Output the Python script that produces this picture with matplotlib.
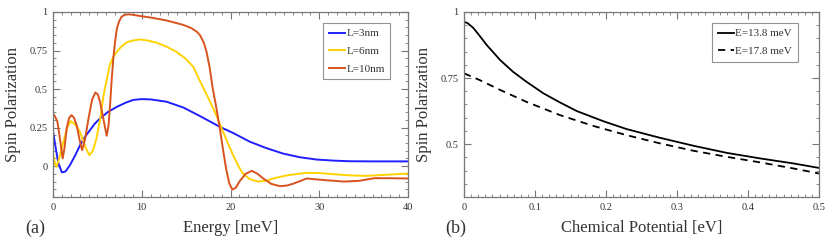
import numpy as np
import matplotlib.pyplot as plt
from matplotlib.ticker import MultipleLocator, FuncFormatter

# panel (a): spin polarization vs energy
e_3nm = [0, 0.3, 0.6, 1.0, 1.4, 1.9, 2.5, 3.05, 3.6, 4.17, 4.7, 5.3, 6.2, 7.2, 8.2, 9.06, 10.0,
         11.0, 12.8, 14.7, 16.56, 18.8, 20.3, 22.2, 24.0, 25.9, 27.8, 29.7, 31.6, 33.4, 36.0, 40.0]
p_3nm = [0.227, 0.12, 0.02, -0.040, -0.035, 0.006, 0.07, 0.136, 0.19, 0.234, 0.275, 0.31, 0.352, 0.385,
         0.412, 0.430, 0.435, 0.433, 0.418, 0.38, 0.325, 0.255, 0.215, 0.158, 0.118, 0.082, 0.058,
         0.043, 0.036, 0.032, 0.031, 0.031]

e_6nm = [0, 0.2, 0.4, 0.7, 1.17, 1.6, 2.0, 2.5, 3.05, 3.6, 4.1, 4.5, 4.9, 5.3, 5.7, 6.05, 6.4, 6.8,
         7.2, 7.7, 8.3, 9.0, 9.8, 10.7, 11.7, 12.8, 13.9, 14.9, 15.8, 16.56, 17.7, 18.4, 19.0, 19.7,
         20.3, 20.9, 21.4, 22.2, 23.1, 24.0, 24.8, 26.5, 28.6, 30.0, 31.6, 33.5, 35.3, 37.5, 40.0]
p_6nm = [0.08, 0.02, -0.004, 0.05, 0.158, 0.25, 0.292, 0.27, 0.223, 0.13, 0.071, 0.10, 0.18, 0.30,
         0.46, 0.56, 0.656, 0.71, 0.742, 0.775, 0.803, 0.815, 0.822, 0.815, 0.80, 0.775, 0.742, 0.70,
         0.645, 0.552, 0.418, 0.33, 0.245, 0.15, 0.071, 0.0, -0.048, -0.085, -0.10, -0.095, -0.08,
         -0.058, -0.043, -0.045, -0.052, -0.060, -0.063, -0.056, -0.048]

e_10nm = [0, 0.25, 0.5, 0.8, 1.09, 1.3, 1.54, 1.8, 2.07, 2.35, 2.67, 3.0, 3.27, 3.6, 4.0, 4.4, 4.77,
          5.05, 5.3, 5.7, 6.05, 6.25, 6.43, 6.6, 6.8, 7.0, 7.2, 7.45, 7.74, 8.1, 8.5, 9.0, 9.8, 10.9,
          12.8, 14.7, 15.6, 16.2, 16.56, 17.0, 17.3, 17.65, 18.0, 18.4, 18.8, 19.15, 19.5, 19.85,
          20.2, 20.6, 21.0, 21.7, 22.4, 23.0, 23.7, 24.6, 25.6, 26.4, 27.1, 28.6, 30.5, 32.8, 34.5,
          36.2, 38.0, 40.0]
p_10nm = [0.342, 0.32, 0.288, 0.17, 0.05, 0.12, 0.245, 0.31, 0.331, 0.315, 0.266, 0.17, 0.104,
          0.17, 0.31, 0.43, 0.478, 0.465, 0.418, 0.30, 0.197, 0.26, 0.396, 0.55, 0.70, 0.81, 0.894,
          0.94, 0.970, 0.982, 0.985, 0.982, 0.974, 0.965, 0.945, 0.916, 0.895, 0.872, 0.85, 0.80,
          0.742, 0.64, 0.504, 0.38, 0.245, 0.11, -0.015, -0.11, -0.152, -0.14, -0.10, -0.05,
          -0.030, -0.048, -0.08, -0.115, -0.130, -0.125, -0.113, -0.080, -0.090, -0.100, -0.095,
          -0.078, -0.078, -0.080]

# panel (b): spin polarization vs chemical potential
mu_138 = [0, 0.005, 0.013, 0.022, 0.032, 0.051, 0.069, 0.088, 0.112, 0.135, 0.159, 0.196, 0.229,
          0.276, 0.323, 0.37, 0.417, 0.464, 0.5]
p_138 = [0.963, 0.958, 0.940, 0.910, 0.875, 0.818, 0.774, 0.736, 0.692, 0.658, 0.625, 0.587, 0.557,
         0.524, 0.494, 0.467, 0.446, 0.427, 0.41]

mu_178 = [0, 0.0225, 0.051, 0.088, 0.135, 0.182, 0.229, 0.276, 0.323, 0.37, 0.417, 0.464, 0.5]
p_178 = [0.768, 0.742, 0.705, 0.660, 0.610, 0.569, 0.534, 0.503, 0.475, 0.452, 0.431, 0.408, 0.389]

plt.rcParams.update({
    'font.family': ['Liberation Serif', 'DejaVu Serif'],
    'text.color': '#333333',
    'axes.labelcolor': '#333333',
    'xtick.color': '#777777',
    'ytick.color': '#777777',
    'xtick.labelcolor': '#333333',
    'ytick.labelcolor': '#333333',
    'axes.edgecolor': '#777777',
    'axes.linewidth': 0.9,
})

fig = plt.figure(figsize=(8.3, 2.41), dpi=100)
W, H = 830, 241
ax1 = fig.add_axes([53 / W, (H - 197) / H, 355 / W, 185 / H])
ax2 = fig.add_axes([464 / W, (H - 197) / H, 355 / W, 185 / H])

fmt = FuncFormatter(lambda v, pos: ('%g' % round(v, 3)))


def style(ax, xmaj, xmin, ymaj, ymin):
    ax.xaxis.set_major_locator(MultipleLocator(xmaj))
    ax.xaxis.set_minor_locator(MultipleLocator(xmin))
    ax.yaxis.set_major_locator(MultipleLocator(ymaj))
    ax.yaxis.set_minor_locator(MultipleLocator(ymin))
    ax.xaxis.set_major_formatter(fmt)
    ax.yaxis.set_major_formatter(fmt)
    ax.tick_params(which='both', direction='in', top=True, right=True, labelsize=7.5, pad=4)
    ax.tick_params(which='major', length=5, width=0.8)
    ax.tick_params(which='minor', length=2.5, width=0.6)


def legend(ax, anchor):
    leg = ax.legend(loc='upper right', bbox_to_anchor=anchor, fontsize=8, frameon=True,
                    fancybox=False, handlelength=1.5, handletextpad=0.1, borderpad=0.5,
                    labelspacing=0.7, borderaxespad=0)
    leg.get_frame().set_edgecolor('#777777')
    leg.get_frame().set_linewidth(0.8)


ax1.plot(e_3nm, p_3nm, color='#1f1fff', lw=1.4, label='L=3nm')
ax1.plot(e_6nm, p_6nm, color='#ffd200', lw=1.4, label='L=6nm')
ax1.plot(e_10nm, p_10nm, color='#d9531e', lw=1.4, label='L=10nm')
ax1.set_xlim(0, 40)
ax1.set_ylim(-0.2, 1)
style(ax1, 10, 1, 0.25, 0.05)
ax1.set_xlabel('Energy [meV]', fontsize=12, labelpad=6)
ax1.set_ylabel('Spin Polarization', fontsize=12, labelpad=6)
legend(ax1, (0.95, 0.94))

ax2.plot(mu_138, p_138, color='black', lw=1.3, label='E=13.8 meV')
ax2.plot(mu_178, p_178, color='black', lw=1.3, ls=(0, (4, 3)), label='E=17.8 meV')
ax2.set_xlim(0, 0.5)
ax2.set_ylim(0.3, 1)
style(ax2, 0.1, 0.01, 0.25, 0.05)
ax2.set_xlabel('Chemical Potential [eV]', fontsize=12, labelpad=6)
ax2.set_ylabel('Spin Polarization', fontsize=12, labelpad=6)
legend(ax2, (0.94, 0.94))

fig.text(25 / W, 1 - 228 / H, '(a)', fontsize=13, va='center', ha='left')
fig.text(445 / W, 1 - 228 / H, '(b)', fontsize=13, va='center', ha='left')

fig.savefig('out.png', dpi=100)
